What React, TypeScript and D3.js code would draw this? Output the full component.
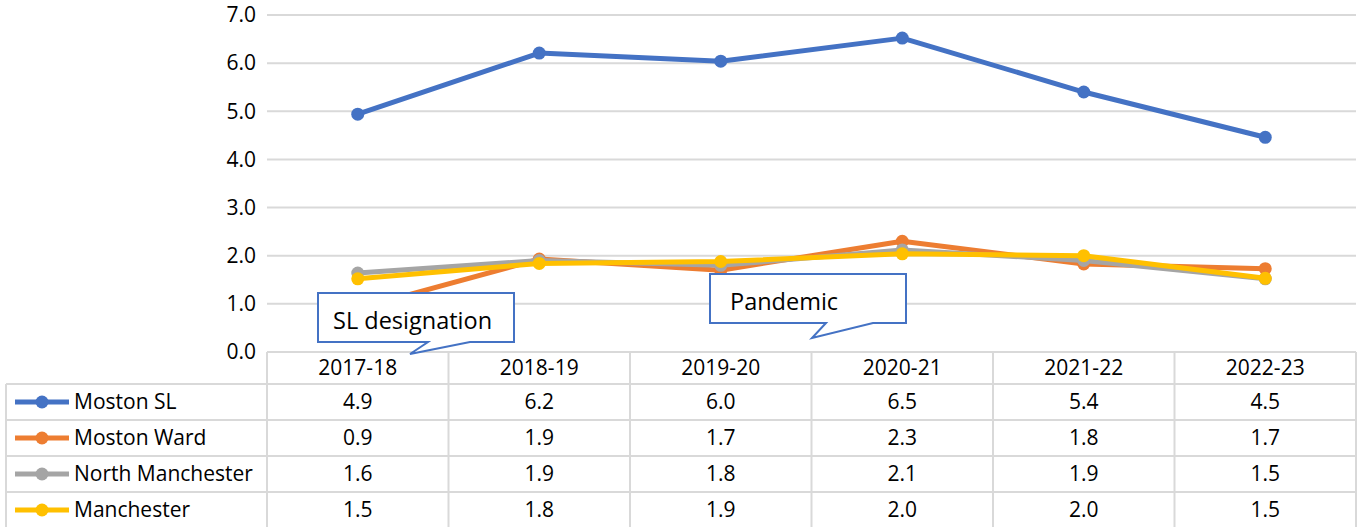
import * as d3 from "d3"

const categories = ["2017-18", "2018-19", "2019-20", "2020-21", "2021-22", "2022-23"]
const yTicks = [0, 1, 2, 3, 4, 5, 6, 7]

const mostonSL = [4.94, 6.21, 6.04, 6.52, 5.4, 4.46]
const mostonWard = [0.9, 1.93, 1.7, 2.3, 1.83, 1.73]
const northManchester = [1.64, 1.9, 1.8, 2.12, 1.9, 1.52]
const manchester = [1.52, 1.84, 1.88, 2.04, 2.0, 1.53]

const seriesNames = ["Moston SL", "Moston Ward", "North Manchester", "Manchester"]
const seriesColors = ["#4472C4", "#ED7D31", "#A5A5A5", "#FFC000"]
const seriesValues = [mostonSL, mostonWard, northManchester, manchester]

const W = 1359
const H = 527
const FONT = "'Open Sans', sans-serif"
const FS = 21

export default function App() {
  const x = d3.scaleBand<string>().domain(categories).range([267, 1356])
  const y = d3.scaleLinear().domain([0, 7]).range([352, 15])
  const cx = (c: string) => (x(c) || 0) + x.bandwidth() / 2

  const headerBottom = 384
  const rowH = 36
  const tableLeft = 6
  const grid = "#d9d9d9"

  const line = d3
    .line<number>()
    .x((_, i) => cx(categories[i]))
    .y((d) => y(d))

  return (
    <svg width={W} height={H} style={{ position: "absolute", left: 0, top: 0, fontFamily: FONT }}>
      <rect width={W} height={H} fill="#fff" />

      {/* gridlines and y labels */}
      {yTicks.map((t) => (
        <g key={t}>
          {t > 0 && <line x1={267} x2={1356} y1={y(t)} y2={y(t)} stroke={grid} strokeWidth={2} />}
          <text x={256} y={y(t)} dy="0.35em" textAnchor="end" fontSize={FS} fill="#000">
            {t.toFixed(1)}
          </text>
        </g>
      ))}

      {/* data table */}
      <g stroke={grid} strokeWidth={2} fill="none">
        <line x1={267} x2={1356} y1={y(0)} y2={y(0)} />
        {seriesNames.map((_, i) => (
          <line key={i} x1={tableLeft} x2={1356} y1={headerBottom + i * rowH} y2={headerBottom + i * rowH} />
        ))}
        <line x1={tableLeft} x2={tableLeft} y1={headerBottom} y2={H} />
        {categories.map((c) => (
          <line key={c} x1={x(c)} x2={x(c)} y1={y(0)} y2={H} />
        ))}
        <line x1={1356} x2={1356} y1={y(0)} y2={H} />
      </g>

      {categories.map((c) => (
        <text key={c} x={cx(c)} y={(y(0) + headerBottom) / 2} dy="0.35em" textAnchor="middle" fontSize={FS}>
          {c}
        </text>
      ))}

      {seriesNames.map((name, i) => {
        const rowY = headerBottom + i * rowH + rowH / 2
        return (
          <g key={name}>
            <line x1={15} x2={69} y1={rowY} y2={rowY} stroke={seriesColors[i]} strokeWidth={5} />
            <circle cx={42} cy={rowY} r={6.5} fill={seriesColors[i]} />
            <text x={74} y={rowY} dy="0.35em" fontSize={FS}>
              {name}
            </text>
            {seriesValues[i].map((v, j) => (
              <text key={j} x={cx(categories[j])} y={rowY} dy="0.35em" textAnchor="middle" fontSize={FS}>
                {v.toFixed(1)}
              </text>
            ))}
          </g>
        )
      })}

      {/* series lines */}
      {seriesValues.map((vals, i) => (
        <g key={i}>
          <path d={line(vals) || ""} fill="none" stroke={seriesColors[i]} strokeWidth={5} strokeLinejoin="round" />
          {vals.map((v, j) => (
            <circle key={j} cx={cx(categories[j])} cy={y(v)} r={6.5} fill={seriesColors[i]} />
          ))}
        </g>
      ))}

      {/* callouts */}
      <path
        d="M318,293 H514 V342 H470 L410,354 L428,342 H318 Z"
        fill="#fff"
        stroke="#4472C4"
        strokeWidth={2}
      />
      <text x={333} y={329} fontSize={23.5}>
        SL designation
      </text>
      <path
        d="M710,274 H906 V323 H873 L812,338 L826,323 H710 Z"
        fill="#fff"
        stroke="#4472C4"
        strokeWidth={2}
      />
      <text x={730} y={310} fontSize={23.5}>
        Pandemic
      </text>
    </svg>
  )
}
